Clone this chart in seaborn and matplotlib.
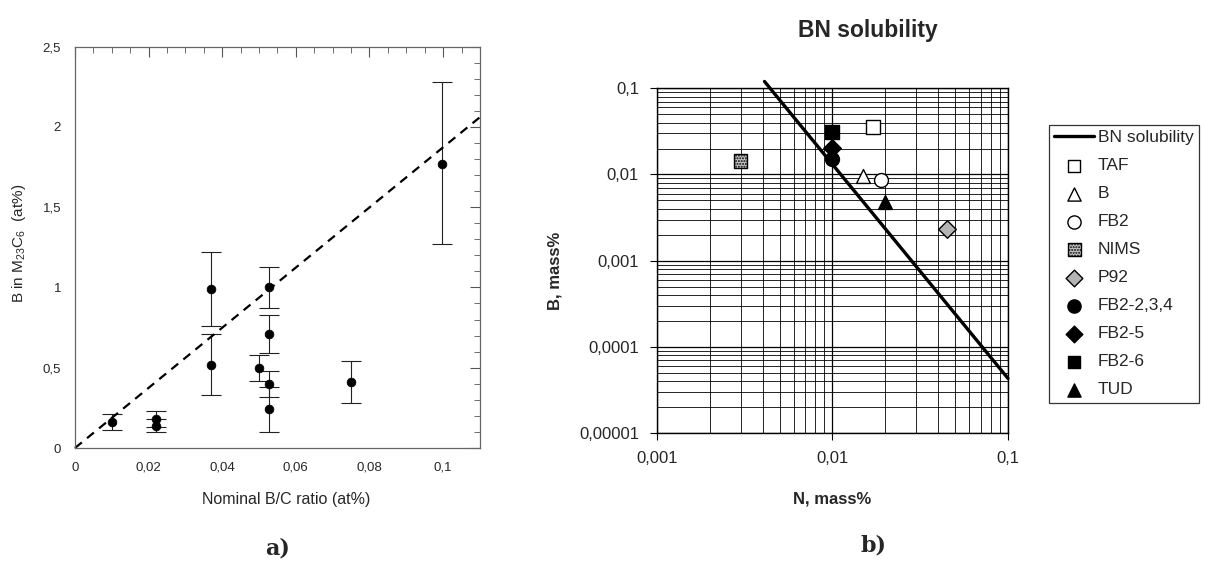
import numpy as np
import pandas as pd
import matplotlib
matplotlib.use("Agg")
import matplotlib.pyplot as plt
import matplotlib.ticker as mticker
import seaborn as sns

# panel a) boron in M23C6 vs nominal B/C ratio
bc_ratio = [0.010, 0.022, 0.022, 0.037, 0.037, 0.050, 0.0527, 0.0527, 0.0527, 0.0527, 0.075, 0.0997]
b_in_carbide = [0.16, 0.18, 0.14, 0.99, 0.52, 0.50, 1.00, 0.71, 0.40, 0.24, 0.41, 1.77]
err_low = [0.11, 0.13, 0.10, 0.76, 0.33, 0.42, 0.87, 0.59, 0.32, 0.10, 0.28, 1.27]
err_high = [0.21, 0.23, 0.18, 1.22, 0.71, 0.58, 1.13, 0.83, 0.48, 0.38, 0.54, 2.28]
trend_x = [0.0, 0.11]
trend_y = [0.0, 2.06]

# panel b) BN solubility
bn_n = [0.0041, 0.1]
bn_b = [0.12, 4.3e-5]
series = ["TAF", "B", "FB2", "NIMS", "P92", "FB2-2,3,4", "FB2-5", "FB2-6", "TUD"]
n_vals = [0.017, 0.015, 0.019, 0.0030, 0.045, 0.010, 0.010, 0.010, 0.020]
b_vals = [0.036, 0.0097, 0.0086, 0.0143, 0.0023, 0.0152, 0.0201, 0.031, 0.0048]
markers = ["s", "^", "o", "s", "D", "o", "D", "s", "^"]
faces = ["white", "white", "white", "#c8c8c8", "#b4b4b4", "black", "black", "black", "black"]

sns.set_style("white")
plt.rcParams["font.family"] = ["Liberation Sans", "DejaVu Sans"]
plt.rcParams["mathtext.fontset"] = "custom"
plt.rcParams["mathtext.rm"] = "Liberation Sans"

fig = plt.figure(figsize=(12.05, 5.61), dpi=100)
ax1 = fig.add_axes([0.0622, 0.2014, 0.3361, 0.7157])
ax2 = fig.add_axes([0.5452, 0.2282, 0.2913, 0.6144])

# ---- a) ----
df_a = pd.DataFrame({"x": bc_ratio, "y": b_in_carbide, "lo": err_low, "hi": err_high})
yerr = np.array([df_a["y"] - df_a["lo"], df_a["hi"] - df_a["y"]])
ax1.errorbar(df_a["x"], df_a["y"], yerr=yerr, fmt="none", ecolor="#222222",
             elinewidth=0.8, capsize=7, capthick=0.8)
sns.scatterplot(data=df_a, x="x", y="y", ax=ax1, color="black", s=40,
                edgecolor="black", zorder=3, legend=False)
sns.lineplot(x=trend_x, y=trend_y, ax=ax1, color="black", lw=1.6,
             dashes=(4, 3), clip_on=False)
ax1.set_xlim(0, 0.11)
ax1.set_ylim(0, 2.5)
ax1.xaxis.set_major_locator(mticker.MultipleLocator(0.02))
ax1.xaxis.set_minor_locator(mticker.MultipleLocator(0.005))
ax1.yaxis.set_major_locator(mticker.MultipleLocator(0.5))
ax1.yaxis.set_minor_locator(mticker.MultipleLocator(0.1))
comma = mticker.FuncFormatter(lambda v, p: ("%g" % round(v, 3)).replace(".", ","))
ax1.xaxis.set_major_formatter(comma)
ax1.yaxis.set_major_formatter(comma)
ax1.tick_params(which="both", direction="in", top=True, right=True, color="#555555",
                labelsize=9.5, pad=10)
ax1.tick_params(which="major", length=7)
ax1.tick_params(which="minor", length=4)
for sp in ax1.spines.values():
    sp.set_color("#666666")
    sp.set_linewidth(0.9)
ax1.set_xlabel("Nominal B/C ratio (at%)", fontsize=11.5)
ax1.xaxis.set_label_coords(0.522, -0.11)
ax1.set_ylabel("B in M$_\\mathregular{23}$C$_\\mathregular{6}$  (at%)", fontsize=11)
ax1.yaxis.set_label_coords(-0.115, 0.51)

# ---- b) ----
sns.lineplot(x=bn_n, y=bn_b, ax=ax2, color="black", lw=2.4, clip_on=False,
             label="BN solubility", zorder=4, legend=False)
for name, nx, by, mk, fc in zip(series, n_vals, b_vals, markers, faces):
    hatch = "......" if name == "NIMS" else None
    size = 95 if mk == "s" else (80 if mk == "D" else 100)
    sns.scatterplot(x=[nx], y=[by], ax=ax2, marker=mk, s=size, facecolor=fc,
                    edgecolor="black", linewidth=1.0, hatch=hatch, zorder=5,
                    label=name, legend=False)
ax2.set_xscale("log")
ax2.set_yscale("log")
ax2.set_xlim(0.001, 0.1)
ax2.set_ylim(1e-5, 0.1)
ax2.grid(True, which="major", color="black", lw=0.9)
ax2.grid(True, which="minor", color="black", lw=0.6)
ax2.set_xticks([0.001, 0.01, 0.1])
ax2.set_xticklabels(["0,001", "0,01", "0,1"])
ax2.set_yticks([1e-5, 1e-4, 1e-3, 1e-2, 0.1])
ax2.set_yticklabels(["0,00001", "0,0001", "0,001", "0,01", "0,1"])
ax2.tick_params(which="major", direction="out", length=5, labelsize=12, pad=8,
                left=True, bottom=True, color="black")
ax2.tick_params(which="minor", length=0)
for sp in ax2.spines.values():
    sp.set_color("black")
    sp.set_linewidth(1.0)
ax2.set_xlabel("N, mass%", fontsize=12, fontweight="bold", labelpad=18)
ax2.set_ylabel("B, mass%", fontsize=12, fontweight="bold")
ax2.yaxis.set_label_coords(-0.27, 0.47)
fig.text(0.72, 0.946, "BN solubility", fontsize=16.5, fontweight="bold",
         ha="center", va="center")

handles, labels = ax2.get_legend_handles_labels()
leg = fig.legend(handles, labels, loc="upper left", bbox_to_anchor=(0.8705, 0.777),
                 fontsize=12.5, frameon=True, fancybox=False, edgecolor="black",
                 labelspacing=0.74, handlelength=2.3, handletextpad=0.2,
                 borderpad=0.3, borderaxespad=0, markerscale=0.95)
leg.get_frame().set_linewidth(0.9)

fig.text(0.23, 0.023, "a)", family="DejaVu Serif", fontweight="bold", fontsize=16,
         ha="center", va="center")
fig.text(0.725, 0.028, "b)", family="DejaVu Serif", fontweight="bold", fontsize=16,
         ha="center", va="center")

fig.savefig("out.png", dpi=100)
